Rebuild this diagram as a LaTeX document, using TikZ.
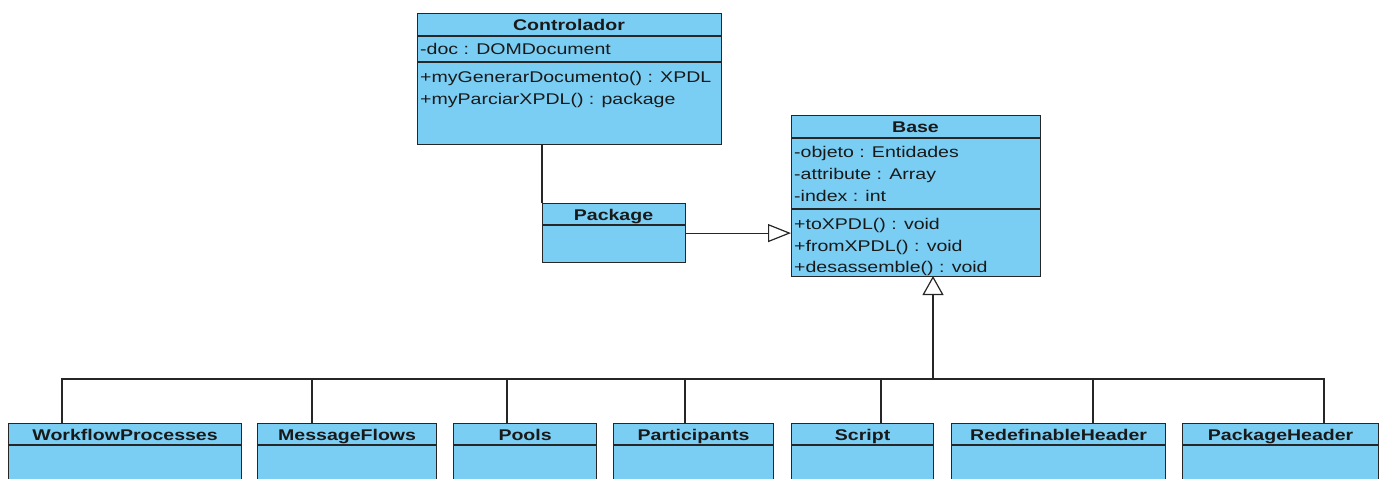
\documentclass[tikz,border=0pt]{standalone}
\usepackage{fontspec}
\setmainfont{Liberation Sans}[FakeStretch=1.26]
\usetikzlibrary{arrows.meta,calc}
\definecolor{classfill}{RGB}{122,206,244}
\definecolor{edge}{RGB}{38,38,38}
\tikzset{
  umlbox/.style={draw=edge, fill=classfill, line width=1.2pt, rectangle,
    inner sep=0pt, anchor=north west},
  sepline/.style={draw=edge, line width=1.2pt},
  conn/.style={draw=edge, line width=1.2pt},
  member/.style={anchor=base west, inner sep=0pt, font=\fontsize{15.5}{18}\selectfont, text=black!90},
  title/.style={anchor=base, inner sep=0pt, font=\fontsize{15.5}{18}\selectfont\bfseries, text=black!90},
  gentip/.style={-{Triangle[open, length=19pt, width=21pt, line width=1.2pt]}},
}
\begin{document}
\begin{tikzpicture}[x=1pt, y=-1pt]
\useasboundingbox (0,0) rectangle (1384,479);
\clip (0,0) rectangle (1384,479);

% Controlador
\node[umlbox, minimum width=304pt, minimum height=131pt] (ctrl) at (417,13) {};
\draw[sepline] ([yshift=-23pt]ctrl.north west) -- ([yshift=-23pt]ctrl.north east);
\draw[sepline] ([yshift=-49pt]ctrl.north west) -- ([yshift=-49pt]ctrl.north east);
\node[title] (ctrlT) at (569,30.5) {Controlador};
\node[member] (ctrlA1) at (420,54.8) {-doc : DOMDocument};
\node[member] (ctrlM1) at (420,82.8) {+myGenerarDocumento() : XPDL};
\node[member] (ctrlM2) at (420,104.8) {+myParciarXPDL() : package};

% Base
\node[umlbox, minimum width=249pt, minimum height=161pt] (base) at (791,115) {};
\draw[sepline] ([yshift=-23pt]base.north west) -- ([yshift=-23pt]base.north east);
\draw[sepline] ([yshift=-94pt]base.north west) -- ([yshift=-94pt]base.north east);
\node[title] (baseT) at (915.5,132.2) {Base};
\node[member] (baseA1) at (794,157.2) {-objeto : Entidades};
\node[member] (baseA2) at (794,179.5) {-attribute : Array};
\node[member] (baseA3) at (794,201.5) {-index : int};
\node[member] (baseM1) at (794,229.5) {+toXPDL() : void};
\node[member] (baseM2) at (794,251.2) {+fromXPDL() : void};
\node[member] (baseM3) at (794,272.2) {+desassemble() : void};

% Package
\node[umlbox, minimum width=143pt, minimum height=59pt] (pkg) at (542,203) {};
\draw[sepline] ([yshift=-22pt]pkg.north west) -- ([yshift=-22pt]pkg.north east);
\node[title] (pkgT) at (613.5,220.6) {Package};

% Subclasses of Base (lower part runs past the lower edge)
\foreach \nm/\lab/\xl/\xr in {
    wp/WorkflowProcesses/8/241,
    mf/MessageFlows/257/436,
    pools/Pools/453/596,
    part/Participants/613/773,
    scr/Script/791/933,
    redef/RedefinableHeader/951/1165,
    ph/PackageHeader/1182/1378}{
  \pgfmathsetmacro{\w}{\xr-\xl}
  \node[umlbox, minimum width=\w pt, minimum height=80pt] (\nm) at (\xl,423) {};
  \draw[sepline] ([yshift=-22pt]\nm.north west) -- ([yshift=-22pt]\nm.north east);
  \node[title] (\nm T) at ($(\nm.north)+(0,17)$) {\lab};
}

% Connectors
\draw[conn] (pkg.north west) -- (pkg.north west |- ctrl.south);
\draw[conn, -{Triangle[open, length=23pt, width=18pt, line width=1.2pt]}]
  (pkg.east) -- (pkg.east -| base.west);

\coordinate (apex) at (933,276);
\coordinate (bus) at (933,379);
\draw[conn, gentip] (bus) -- (apex);
\draw[conn] ($(wp.north west)+(54,0)$) |- (bus);
\draw[conn] ($(mf.north west)+(55,0)$) |- (bus);
\draw[conn] ($(pools.north west)+(54,0)$) |- (bus);
\draw[conn] ($(part.north west)+(72,0)$) |- (bus);
\draw[conn] ($(scr.north west)+(90,0)$) |- (bus);
\draw[conn] ($(redef.north west)+(142,0)$) |- (bus);
\draw[conn] ($(ph.north west)+(142,0)$) |- (bus);
\end{tikzpicture}
\end{document}
